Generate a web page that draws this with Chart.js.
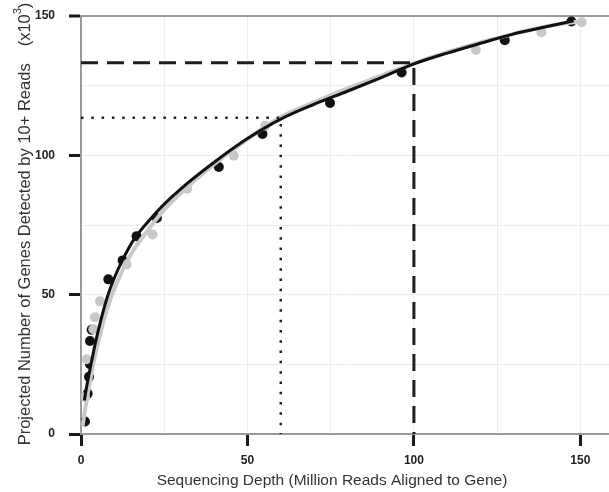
<!DOCTYPE html>
<html>
<head>
<meta charset="utf-8">
<script src="https://cdn.jsdelivr.net/npm/chart.js@4/dist/chart.umd.min.js"></script>
<style>
    html, body { margin: 0; padding: 0; background: #fff; }
    #wrap { width: 609px; height: 492px; position: relative; }
</style>
</head>
<body>
<div id="wrap"><canvas id="depthChart" width="609" height="492"></canvas></div>
<script>
// axis ticks / labels
const gridSteps = [0, 25, 50, 75, 100, 125, 150];
const labelledTicks = [0, 50, 100, 150];
const xTitle = 'Sequencing Depth (Million Reads Aligned to Gene)';
const yTitle = 'Projected Number of Genes Detected by 10+ Reads';
const yUnit = '(x10';

// fitted curves
const blackFitX = [1, 1.7, 3, 4.2, 6, 8, 10, 12.5, 16, 20, 25, 30, 40, 50, 60, 70, 80, 90, 100, 110, 120, 130, 140, 148];
const blackFitY = [12, 17, 25, 32, 41, 49.5, 56, 62.5, 70, 76, 82.5, 88, 97.5, 106, 113, 118.3, 123, 127.8, 132.8, 136.7, 140.2, 143.6, 146.2, 148.3];
const greyFitX = [0.5, 1, 2, 4, 6, 9, 12, 15, 20, 25, 30, 40, 50, 60, 70, 80, 90, 100, 110, 120, 130, 140, 151];
const greyFitY = [3, 7, 14, 27, 37, 49, 57.5, 64.5, 73, 80.5, 86.5, 96.8, 105.8, 113.8, 119, 124, 128.5, 133, 137, 140.5, 143.6, 146.3, 148.3];

// observed points
const blackPtX = [1.2, 2, 2.4, 2.7, 2.7, 3.2, 8.2, 12.5, 16.7, 22.8, 41.4, 54.5, 74.8, 96.3, 127.3, 147.3];
const blackPtY = [4.5, 14.5, 20.5, 25, 33.4, 37.4, 55.5, 62.3, 71, 77.5, 95.8, 107.7, 118.8, 129.7, 141.3, 148];
const greyPtX = [1.2, 1.7, 3.7, 4.2, 5.7, 13.7, 21.5, 31.9, 45.9, 55.3, 118.6, 138.3, 150.4];
const greyPtY = [13.2, 26.8, 37.6, 41.9, 47.6, 60.8, 71.6, 88, 99.9, 110.6, 137.8, 144.2, 147.8];

// reference guides (depth -> genes)
const dashX = [0, 100, 100];
const dashY = [133.2, 133.2, 0];
const dotX = [0, 60, 60];
const dotY = [113.5, 113.5, 0];

const X_MAX = 158.6;
const FONT = '"Liberation Sans", Arial, sans-serif';

function toPoints(xs, ys) {
    return xs.map((x, i) => ({ x: x, y: ys[i] }));
}

const axisTitles = {
    id: 'axisTitles',
    afterDraw(chart) {
        const ctx = chart.ctx;
        ctx.save();
        ctx.fillStyle = '#333';
        ctx.font = '15.5px ' + FONT;
        ctx.textAlign = 'center';
        ctx.textBaseline = 'middle';
        ctx.fillText(xTitle, 332, 481);

        // rotated y title, gap, then (x10^3)
        const mainFont = '16.5px ' + FONT;
        const supFont = '11px ' + FONT;
        ctx.translate(25, 224);
        ctx.rotate(-Math.PI / 2);
        ctx.font = mainFont;
        const gap = 17;
        const mainW = ctx.measureText(yTitle).width;
        const unitW = ctx.measureText(yUnit).width;
        const closeW = ctx.measureText(')').width;
        ctx.font = supFont;
        const supW = ctx.measureText('3').width;
        const total = mainW + gap + unitW + supW + closeW;
        let x0 = -total / 2;
        ctx.textAlign = 'left';
        ctx.font = mainFont;
        ctx.fillText(yTitle, x0, 0);
        x0 += mainW + gap;
        ctx.fillText(yUnit, x0, 0);
        x0 += unitW;
        ctx.font = supFont;
        ctx.fillText('3', x0, -7);
        x0 += supW;
        ctx.font = mainFont;
        ctx.fillText(')', x0, 0);
        ctx.restore();
    }
};

const tickFont = { family: FONT, size: 12, weight: 'bold' };

function gridFor(edgeValue) {
    return {
        color: (c) => (c.tick && c.tick.value === edgeValue ? '#9a9a9a' : '#ececec'),
        lineWidth: (c) => (c.tick && c.tick.value === edgeValue ? 2 : 1),
        tickColor: (c) => (c.tick && labelledTicks.includes(c.tick.value) ? '#1a1a1a' : 'rgba(0,0,0,0)'),
        tickWidth: 3,
        tickLength: 12,
        drawTicks: true
    };
}

function stripPadding(scale) {
    scale.paddingTop = 0;
    scale.paddingBottom = 0;
    scale.paddingLeft = 0;
    scale.paddingRight = 0;
}

const ctx = document.getElementById('depthChart').getContext('2d');

new Chart(ctx, {
    type: 'scatter',
    data: {
        datasets: [
            {
                data: toPoints(dashX, dashY),
                showLine: true,
                borderColor: '#1e1e1e',
                borderWidth: 3,
                borderDash: [17, 9],
                pointRadius: 0,
                tension: 0
            },
            {
                data: toPoints(dotX, dotY),
                showLine: true,
                borderColor: '#1e1e1e',
                borderWidth: 2.5,
                borderDash: [2.5, 7.8],
                pointRadius: 0,
                tension: 0
            },
            {
                data: toPoints(blackFitX, blackFitY),
                showLine: true,
                borderColor: '#111',
                borderWidth: 3,
                pointRadius: 0,
                cubicInterpolationMode: 'monotone'
            },
            {
                data: toPoints(greyFitX, greyFitY),
                showLine: true,
                borderColor: '#c9c9c9',
                borderWidth: 4,
                pointRadius: 0,
                cubicInterpolationMode: 'monotone'
            },
            {
                data: toPoints(greyPtX, greyPtY),
                backgroundColor: '#c8c8c8',
                borderWidth: 0,
                pointRadius: 5
            },
            {
                data: toPoints(blackPtX, blackPtY),
                backgroundColor: '#111',
                borderWidth: 0,
                pointRadius: 5
            }
        ]
    },
    options: {
        responsive: false,
        animation: false,
        events: [],
        layout: { autoPadding: false, padding: { top: 16, right: 0, bottom: 0, left: 0 } },
        plugins: {
            legend: { display: false },
            tooltip: { enabled: false }
        },
        scales: {
            x: {
                type: 'linear',
                min: 0,
                max: X_MAX,
                afterBuildTicks: (scale) => { scale.ticks = gridSteps.map(v => ({ value: v })); },
                afterFit: (scale) => { scale.height = 58; stripPadding(scale); },
                grid: gridFor(null),
                border: { color: '#9a9a9a', width: 2 },
                ticks: {
                    autoSkip: false,
                    maxRotation: 0,
                    padding: 7,
                    color: '#222',
                    font: tickFont,
                    callback: (v) => (labelledTicks.includes(v) ? String(v) : '')
                }
            },
            y: {
                type: 'linear',
                min: 0,
                max: 150,
                afterBuildTicks: (scale) => { scale.ticks = gridSteps.map(v => ({ value: v })); },
                afterFit: (scale) => { scale.width = 81; stripPadding(scale); },
                grid: gridFor(150),
                border: { color: '#9a9a9a', width: 2 },
                ticks: {
                    autoSkip: false,
                    padding: 14,
                    color: '#222',
                    font: tickFont,
                    callback: (v) => (labelledTicks.includes(v) ? String(v) : '')
                }
            }
        }
    },
    plugins: [axisTitles]
});
</script>
</body>
</html>
